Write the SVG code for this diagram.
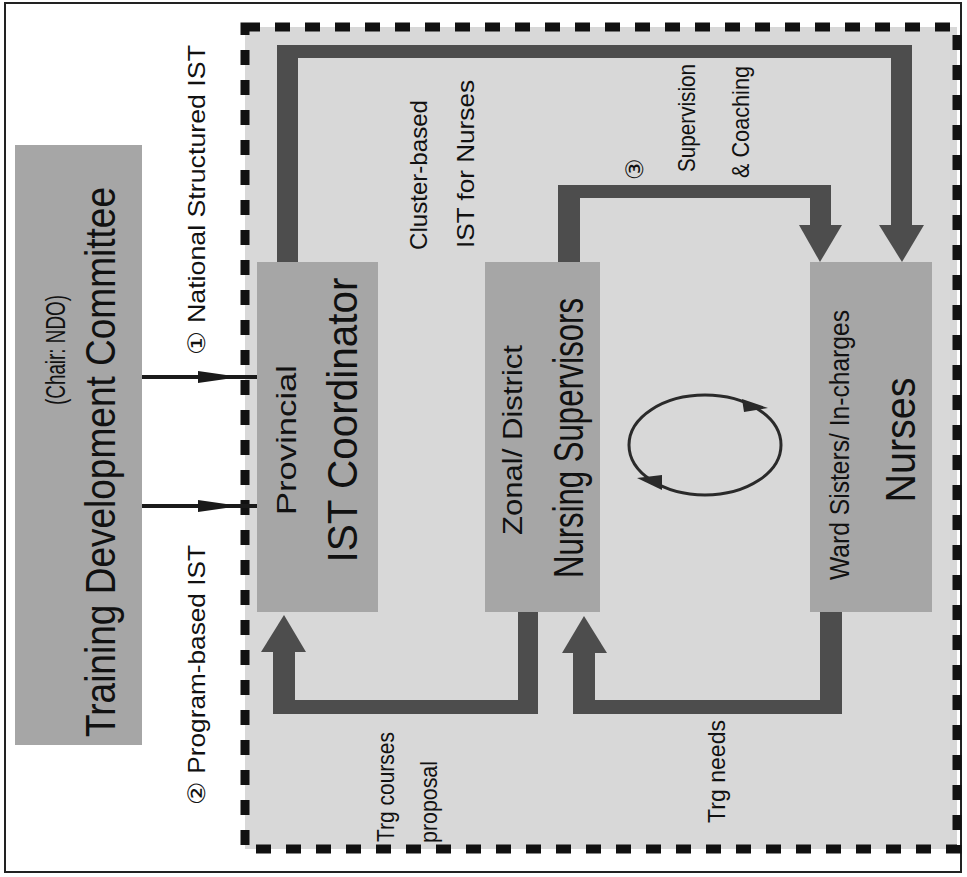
<svg xmlns="http://www.w3.org/2000/svg" width="967" height="877" viewBox="0 0 967 877">
<style>
.box{fill:#a6a6a6}
.band{fill:#4d4d4d}
.t{font-family:"Liberation Sans Narrow","Liberation Sans",Arial,sans-serif;fill:#111;dominant-baseline:central}
.big{font-size:42px}
.mid{font-size:27px}
.lab{font-size:24px}
.thin{stroke:#1a1a1a;stroke-width:4;fill:none}
</style>
<rect x="5" y="3" width="956" height="869" fill="#ffffff" stroke="#222" stroke-width="2"/>
<rect x="245" y="27" width="712" height="822" fill="#d8d8d8" stroke="#111" stroke-width="9" stroke-dasharray="15 15"/>

<g id="connectors">
  <g id="top-loop">
    <rect class="band" x="277" y="45" width="21" height="217"/>
    <rect class="band" x="277" y="45" width="635" height="13"/>
    <rect class="band" x="891" y="45" width="21" height="181"/>
    <polygon class="band" points="879,225 924,225 902,262"/>
  </g>
  <g id="supervision-loop">
    <rect class="band" x="558" y="185" width="22" height="77"/>
    <rect class="band" x="558" y="185" width="273" height="13"/>
    <rect class="band" x="810" y="185" width="21" height="41"/>
    <polygon class="band" points="799,225 842,225 820,262"/>
  </g>
  <g id="courses-loop">
    <rect class="band" x="518" y="612" width="20" height="102"/>
    <rect class="band" x="273" y="700" width="265" height="14"/>
    <rect class="band" x="273" y="651" width="22" height="63"/>
    <polygon class="band" points="261,652 306,652 284,615"/>
  </g>
  <g id="needs-loop">
    <rect class="band" x="820" y="612" width="22" height="102"/>
    <rect class="band" x="573" y="700" width="269" height="14"/>
    <rect class="band" x="573" y="652" width="22" height="62"/>
    <polygon class="band" points="562,653 607,653 584,616"/>
  </g>
  <g id="ist-links">
    <line class="thin" x1="142" y1="377" x2="257" y2="377"/>
    <polygon fill="#1a1a1a" points="198,371 240,377 198,383"/>
    <line class="thin" x1="142" y1="506" x2="257" y2="506"/>
    <polygon fill="#1a1a1a" points="198,500 240,506 198,512"/>
  </g>
  <g id="cycle">
    <ellipse cx="705" cy="445" rx="76" ry="50" fill="none" stroke="#2a2a2a" stroke-width="3"/>
    <polygon fill="#2a2a2a" points="742,399 768,408 744,412"/>
    <polygon fill="#2a2a2a" points="662,490 637,478 662,475"/>
  </g>
</g>

<g id="tdc">
  <rect class="box" x="15" y="145" width="127" height="600"/>
  <text class="t mid" transform="translate(56,350) rotate(-90)" text-anchor="middle" textLength="110" lengthAdjust="spacingAndGlyphs">(Chair: NDO)</text>
  <text class="t big" transform="translate(100,462) rotate(-90)" text-anchor="middle" textLength="550" lengthAdjust="spacingAndGlyphs">Training Development Committee</text>
</g>

<g id="ist-coordinator">
  <rect class="box" x="257" y="262" width="121" height="350"/>
  <text class="t mid" transform="translate(287,440) rotate(-90)" text-anchor="middle" textLength="150" lengthAdjust="spacingAndGlyphs">Provincial</text>
  <text class="t big" transform="translate(342,420) rotate(-90)" text-anchor="middle" textLength="285" lengthAdjust="spacingAndGlyphs">IST Coordinator</text>
</g>

<g id="nursing-supervisors">
  <rect class="box" x="485" y="262" width="115" height="350"/>
  <text class="t mid" transform="translate(513,440) rotate(-90)" text-anchor="middle" textLength="190" lengthAdjust="spacingAndGlyphs">Zonal/ District</text>
  <text class="t big" transform="translate(568,438) rotate(-90)" text-anchor="middle" textLength="280" lengthAdjust="spacingAndGlyphs">Nursing Supervisors</text>
</g>

<g id="nurses">
  <rect class="box" x="810" y="262" width="122" height="350"/>
  <text class="t mid" transform="translate(840,445) rotate(-90)" text-anchor="middle" textLength="270" lengthAdjust="spacingAndGlyphs">Ward Sisters/ In-charges</text>
  <text class="t big" transform="translate(900,440) rotate(-90)" text-anchor="middle" textLength="125" lengthAdjust="spacingAndGlyphs">Nurses</text>
</g>

<g id="labels">
  <text class="t lab" transform="translate(196,355) rotate(-90)" text-anchor="start" textLength="310" lengthAdjust="spacingAndGlyphs">① National Structured IST</text>
  <text class="t lab" transform="translate(196,805) rotate(-90)" text-anchor="start" textLength="260" lengthAdjust="spacingAndGlyphs">② Program-based IST</text>
  <text class="t lab" transform="translate(418,250) rotate(-90)" text-anchor="start" textLength="150" lengthAdjust="spacingAndGlyphs">Cluster-based</text>
  <text class="t lab" transform="translate(465,248) rotate(-90)" text-anchor="start" textLength="168" lengthAdjust="spacingAndGlyphs">IST for Nurses</text>
  <text class="t lab" transform="translate(634,180) rotate(-90)" text-anchor="start">③</text>
  <text class="t lab" transform="translate(686,172) rotate(-90)" text-anchor="start" textLength="108" lengthAdjust="spacingAndGlyphs">Supervision</text>
  <text class="t lab" transform="translate(740,178) rotate(-90)" text-anchor="start" textLength="112" lengthAdjust="spacingAndGlyphs">&amp; Coaching</text>
  <text class="t lab" transform="translate(385,842) rotate(-90)" text-anchor="start" textLength="110" lengthAdjust="spacingAndGlyphs">Trg courses</text>
  <text class="t lab" transform="translate(428,843) rotate(-90)" text-anchor="start" textLength="82" lengthAdjust="spacingAndGlyphs">proposal</text>
  <text class="t lab" transform="translate(716,823) rotate(-90)" text-anchor="start" textLength="103" lengthAdjust="spacingAndGlyphs">Trg needs</text>
</g>
</svg>
